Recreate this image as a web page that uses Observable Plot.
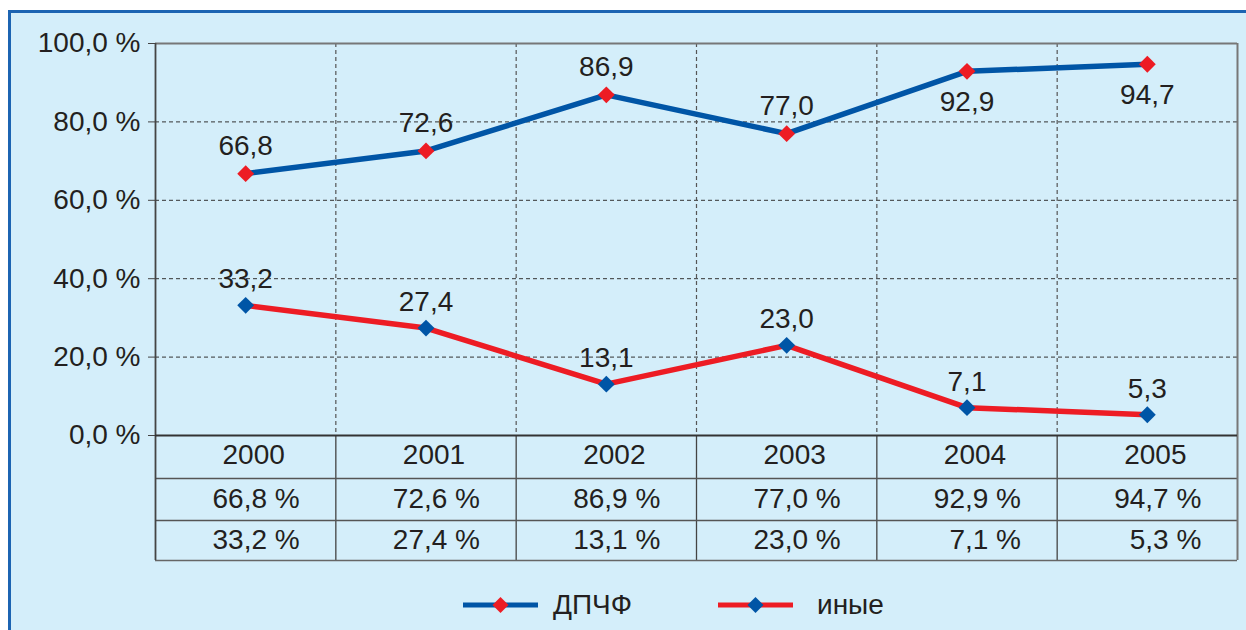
<!DOCTYPE html>
<html>
<head>
<meta charset="utf-8">
<script src="https://cdn.jsdelivr.net/npm/d3@7"></script>
<script src="https://cdn.jsdelivr.net/npm/@observablehq/plot@0.6"></script>
<style>
  html, body { margin: 0; padding: 0; background: #ffffff; width: 1246px; height: 630px; overflow: hidden; }
  body { position: relative; font-family: "Liberation Sans", Arial, Helvetica, sans-serif; color: #231f20; }
  #bg { position: absolute; left: 8px; top: 10px; width: 1260px; height: 640px; background: #d4eefa;
        border-left: 3px solid #1c64b2; border-top: 3px solid #1c64b2; }
  #chart { position: absolute; left: 0; top: 0; }
  #legend { position: absolute; left: 0; top: 580px; width: 1246px; height: 50px; }
  .item { position: absolute; top: 0; height: 50px; display: flex; align-items: center; }
  .item span { font-size: 28px; }
</style>
</head>
<body>
<div id="bg"></div>
<div id="chart"></div>
<div id="legend"></div>
<script>
// ---- data ----
const years = [2000, 2001, 2002, 2003, 2004, 2005];
const dpchf = [66.8, 72.6, 86.9, 77.0, 92.9, 94.7];
const other = [33.2, 27.4, 13.1, 23.0, 7.1, 5.3];
const seriesNames = ["ДПЧФ", "иные"];
const yTicks = [0, 20, 40, 60, 80, 100];

// ---- style ----
const blue = "#0055a6";
const red = "#ed1c24";
const ink = "#231f20";
const font = "'Liberation Sans', Arial, Helvetica, sans-serif";
const fmt = v => v.toFixed(1).replace(".", ",");

const rowsA = years.map((year, i) => ({year, value: dpchf[i], i}));
const rowsB = years.map((year, i) => ({year, value: other[i], i}));
const bounds = years.slice(0, -1).map(y => y + 0.5);
const first = years[0] - 0.5, last = years[years.length - 1] + 0.5;

const W = 1246, H = 575, mT = 43, mB = 140;
const frameH = H - mT - mB;
const tableH = 125;

const chart = Plot.plot({
  width: W, height: H,
  marginLeft: 155, marginRight: 9, marginTop: mT, marginBottom: mB,
  style: {background: "transparent", fontFamily: font, fontSize: "28px", color: ink},
  x: {type: "linear", domain: [first, last], axis: null},
  y: {domain: [0, 100], axis: null},
  marks: [
    // grid
    Plot.ruleY(yTicks.slice(1, -1), {stroke: "#333", strokeDasharray: "4,3", strokeWidth: 1}),
    Plot.ruleX(bounds, {stroke: "#555", strokeDasharray: "4,3", strokeWidth: 1.2}),
    Plot.ruleY([100], {stroke: "#777", strokeWidth: 2}),
    // table
    Plot.ruleX(bounds, {stroke: "#444", strokeWidth: 1.3, insetTop: frameH, insetBottom: -tableH}),
    Plot.ruleY([0], {stroke: "#555", strokeWidth: 1.3, dy: 43}),
    Plot.ruleY([0], {stroke: "#555", strokeWidth: 1.3, dy: 85}),
    Plot.ruleY([0], {stroke: "#666", strokeWidth: 1.5, dy: 125}),
    Plot.ruleX([first], {stroke: "#444", strokeWidth: 1.8, insetBottom: -tableH}),
    Plot.ruleX([last], {stroke: "#777", strokeWidth: 2, insetBottom: -tableH}),
    Plot.ruleY([0], {stroke: "#333", strokeWidth: 2}),
    Plot.text(years, {x: d => d, y: () => 0, dy: 20, dx: 8, text: d => String(d), fill: ink, fontSize: 28}),
    Plot.text(rowsA, {x: "year", y: () => 0, dy: 64, dx: 54, textAnchor: "end", text: d => fmt(d.value) + " %", fill: ink, fontSize: 28}),
    Plot.text(rowsB, {x: "year", y: () => 0, dy: 105, dx: 54, textAnchor: "end", text: d => fmt(d.value) + " %", fill: ink, fontSize: 28}),
    // y axis
    Plot.axisY({ticks: yTicks, tickSize: 7, tickPadding: 8, tickFormat: d => fmt(d) + " %",
                fontSize: 28, stroke: "#444", fill: ink, label: null}),
    // series
    Plot.line(rowsA, {x: "year", y: "value", stroke: blue, strokeWidth: 5.5}),
    Plot.line(rowsB, {x: "year", y: "value", stroke: red, strokeWidth: 5.5}),
    Plot.dot(rowsA, {x: "year", y: "value", symbol: "diamond2", r: 7.6, fill: red, stroke: null}),
    Plot.dot(rowsB, {x: "year", y: "value", symbol: "diamond2", r: 7.6, fill: blue, stroke: null}),
    // labels
    Plot.text(rowsA.filter(d => d.i < 4), {x: "year", y: "value", dy: -28, text: d => fmt(d.value), fill: ink, fontSize: 28}),
    Plot.text(rowsA.filter(d => d.i >= 4), {x: "year", y: "value", dy: 31, text: d => fmt(d.value), fill: ink, fontSize: 28}),
    Plot.text(rowsB, {x: "year", y: "value", dy: -26, text: d => fmt(d.value), fill: ink, fontSize: 28})
  ]
});
document.getElementById("chart").appendChild(chart);

// legend
const legend = document.getElementById("legend");
const swatch = (lineColor, markColor) =>
  `<svg width="75" height="20" style="display:block"><line x1="0" x2="75" y1="10" y2="10" stroke="${lineColor}" stroke-width="5"/>` +
  `<path d="M37.5,2 L45.5,10 L37.5,18 L29.5,10 Z" fill="${markColor}"/></svg>`;
const items = [
  {name: seriesNames[0], line: blue, mark: red, left: 463, gap: 15},
  {name: seriesNames[1], line: red, mark: blue, left: 718, gap: 24}
];
for (const it of items) {
  const d = document.createElement("div");
  d.className = "item";
  d.style.left = it.left + "px";
  d.innerHTML = swatch(it.line, it.mark) + `<span style="margin-left:${it.gap}px">${it.name}</span>`;
  legend.appendChild(d);
}
</script>
</body>
</html>
